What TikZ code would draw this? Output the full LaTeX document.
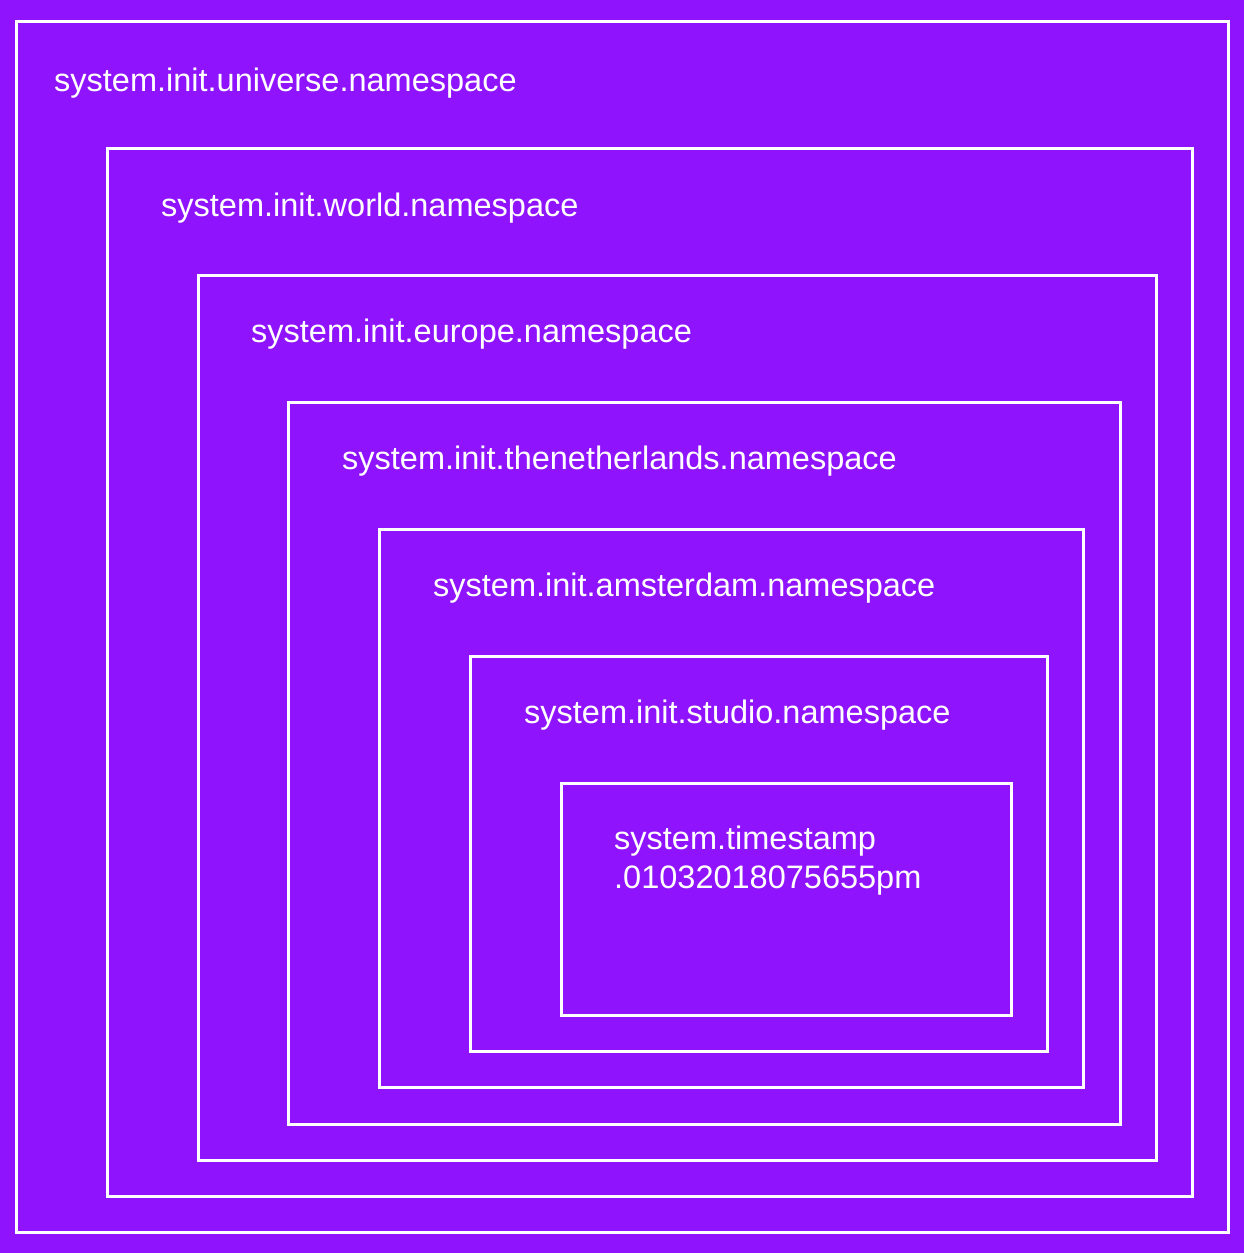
\documentclass[tikz,border=0pt]{standalone}
\usepackage{fontspec}
\setmainfont{Liberation Sans}
\definecolor{bg}{HTML}{9013FE}
\begin{document}
\begin{tikzpicture}[x=1pt,y=-1pt,
  box/.style={draw=white,line width=3pt},
  lbl/.style={anchor=west,text=white,font=\fontsize{32.5}{39}\selectfont,inner sep=0pt,align=left}]
\fill[bg] (0,0) rectangle (1244,1253);
\useasboundingbox (0,0) rectangle (1244,1253);
\draw[box] (16,21) rectangle (1228,1232);
\draw[box] (107,148) rectangle (1192,1196);
\draw[box] (198,275) rectangle (1156,1160);
\draw[box] (288,402) rectangle (1120,1124);
\draw[box] (379,529) rectangle (1083,1087);
\draw[box] (470,656) rectangle (1047,1051);
\draw[box] (561,783) rectangle (1011,1015);
\node[lbl] (t1) at (54,83) {system.init.universe.namespace};
\node[lbl] (t2) at (161,208) {system.init.world.namespace};
\node[lbl] (t3) at (251,334) {system.init.europe.namespace};
\node[lbl] (t4) at (342,461) {system.init.thenetherlands.namespace};
\node[lbl] (t5) at (433,588) {system.init.amsterdam.namespace};
\node[lbl] (t6) at (524,715) {system.init.studio.namespace};
\node[lbl] (t7) at (614,861) {system.timestamp\\.01032018075655pm};
\end{tikzpicture}
\end{document}
